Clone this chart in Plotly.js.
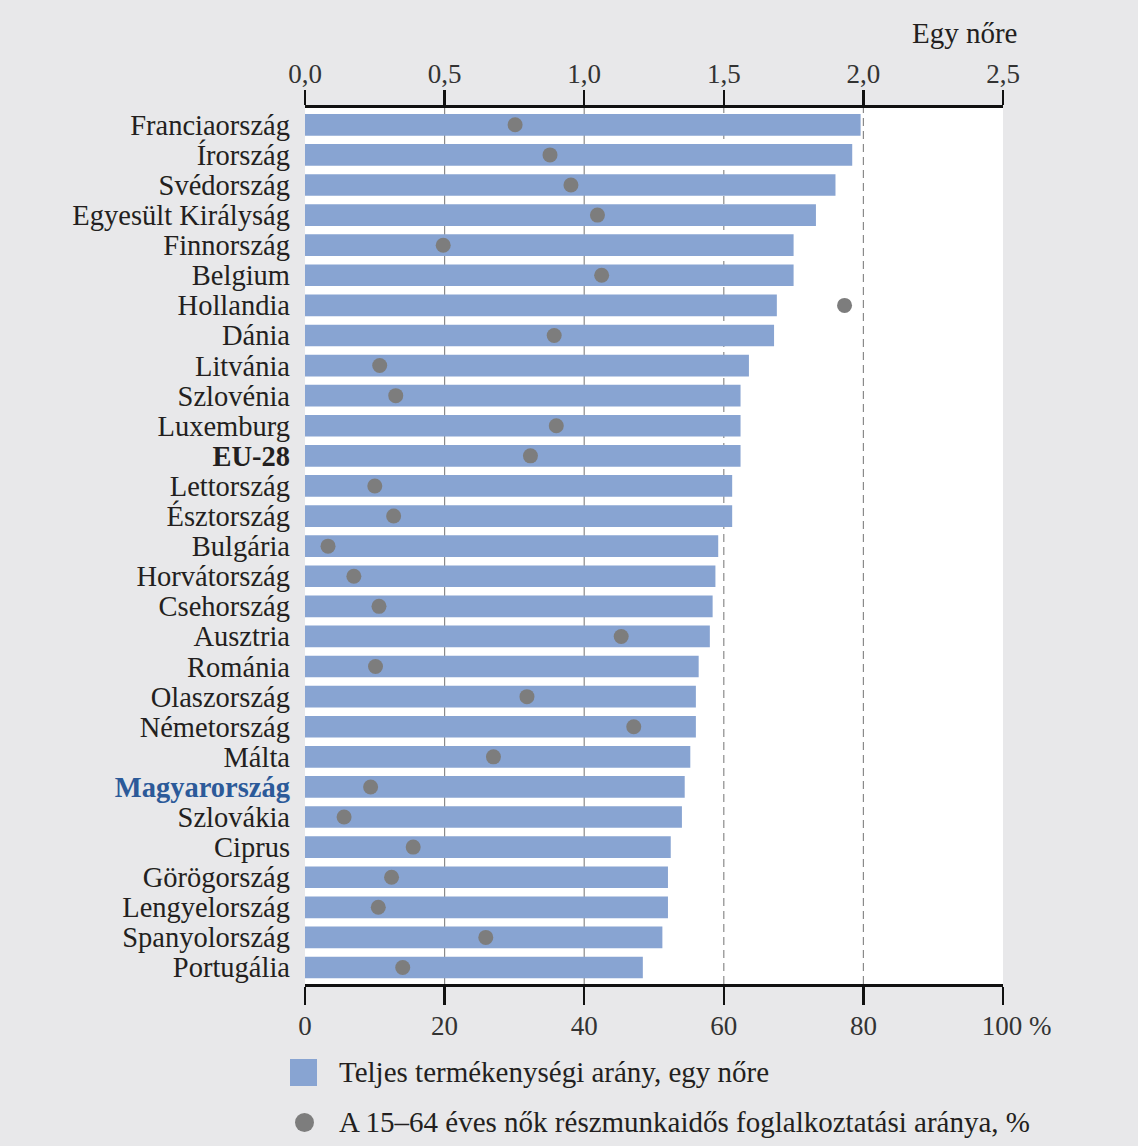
<!DOCTYPE html>
<html>
<head>
<meta charset="utf-8">
<script src="https://cdn.plot.ly/plotly-3.0.1.min.js"></script>
<style>
  html, body { margin: 0; padding: 0; background: #e8e8ea; }
  #chart { width: 1138px; height: 1146px; }
</style>
</head>
<body>
<div id="chart"></div>
<script>
// ---- data ----
const categories = ['Franciaország','Írország','Svédország','Egyesült Királyság','Finnország','Belgium','Hollandia','Dánia','Litvánia','Szlovénia','Luxemburg','EU-28','Lettország','Észtország','Bulgária','Horvátország','Csehország','Ausztria','Románia','Olaszország','Németország','Málta','Magyarország','Szlovákia','Ciprus','Görögország','Lengyelország','Spanyolország','Portugália'];
const fertilityRate = [1.99,1.96,1.90,1.83,1.75,1.75,1.69,1.68,1.59,1.56,1.56,1.56,1.53,1.53,1.48,1.47,1.46,1.45,1.41,1.40,1.40,1.38,1.36,1.35,1.31,1.30,1.30,1.28,1.21];
const partTimeShare = [30.1,35.1,38.1,41.9,19.8,42.5,77.3,35.7,10.7,13.0,36.0,32.3,10.0,12.7,3.3,7.0,10.6,45.3,10.1,31.8,47.1,27.0,9.4,5.6,15.5,12.4,10.5,25.9,14.0];
const fertilityTicks = [0, 0.5, 1.0, 1.5, 2.0, 2.5];
const percentTicks = [0, 20, 40, 60, 80, 100];
const percentTickText = ['0','20','40','60','80','\u2007\u2007100 %'];
const solidGridValues = [0.5, 1.0];
const dashedRefValues = [1.5, 2.0];
const legendLabels = ['Teljes termékenységi arány, egy nőre', 'A 15–64 éves nők részmunkaidős foglalkoztatási aránya, %'];
const topAxisUnit = 'Egy nőre';

// ---- styling ----
const FONT = 'Liberation Serif, "Times New Roman", serif';
const TEXT = '#231f20';
const BAR = '#88a4d2';
const DOT = '#7d7d7d';
const W = 1138, H = 1146;
const M = {l: 305, r: 135, t: 108, b: 162};
const PW = W - M.l - M.r, PH = H - M.t - M.b;
const px = v => (v - M.l) / PW;
const py = v => (H - M.b - v) / PH;

const tickText = categories.map(c => {
  if (c === 'EU-28') return '<b>' + c + '</b>';
  if (c === 'Magyarország') return '<span style="color:#2c5a99"><b>' + c + '</b></span>';
  return c;
});

const traces = [
  {
    type: 'bar', orientation: 'h',
    x: fertilityRate, y: categories,
    xaxis: 'x', yaxis: 'y',
    width: 0.72,
    marker: {color: BAR, line: {width: 0}},
    name: legendLabels[0],
    hoverinfo: 'skip'
  },
  {
    type: 'scatter', mode: 'markers',
    x: partTimeShare, y: categories,
    xaxis: 'x2', yaxis: 'y',
    marker: {color: DOT, size: 15, line: {width: 0}},
    name: legendLabels[1],
    hoverinfo: 'skip'
  }
];

const shapes = [];
solidGridValues.forEach(v => shapes.push({
  type: 'line', xref: 'x', yref: 'paper', x0: v, x1: v, y0: 0, y1: 1,
  line: {color: '#8a8a8a', width: 1.2}, layer: 'below'
}));
dashedRefValues.forEach(v => shapes.push({
  type: 'line', xref: 'x', yref: 'paper', x0: v, x1: v, y0: 0, y1: 1,
  line: {color: '#8a8a8a', width: 1.2, dash: '8px,5px'}, layer: 'below'
}));
// legend swatches
shapes.push({type: 'rect', xref: 'paper', yref: 'paper',
  x0: px(290), x1: px(317), y0: py(1086), y1: py(1059),
  fillcolor: BAR, line: {width: 0}});
shapes.push({type: 'circle', xref: 'paper', yref: 'paper',
  x0: px(295), x1: px(314), y0: py(1132), y1: py(1113),
  fillcolor: DOT, line: {width: 0}});

const annotations = [
  {xref: 'paper', yref: 'paper', x: px(1020), y: py(33), xanchor: 'right', yanchor: 'middle',
   text: topAxisUnit, showarrow: false, font: {family: FONT, size: 29, color: TEXT}},
  {xref: 'paper', yref: 'paper', x: px(337), y: py(1072), xanchor: 'left', yanchor: 'middle',
   text: legendLabels[0], showarrow: false, font: {family: FONT, size: 29, color: TEXT}},
  {xref: 'paper', yref: 'paper', x: px(337), y: py(1122), xanchor: 'left', yanchor: 'middle',
   text: legendLabels[1], showarrow: false, font: {family: FONT, size: 29, color: TEXT}}
];

const layout = {
  width: W, height: H,
  margin: M,
  paper_bgcolor: '#e8e8ea',
  plot_bgcolor: '#ffffff',
  separators: ', ',
  showlegend: false,
  hovermode: false,
  font: {family: FONT, size: 27, color: TEXT},
  xaxis: {
    side: 'top', range: [0, 2.5],
    tickvals: fertilityTicks, tickformat: '.1f',
    showline: true, linecolor: '#111', linewidth: 3,
    ticks: 'outside', ticklen: 15, tickwidth: 2.5, tickcolor: '#111',
    ticklabelstandoff: -4,
    showgrid: false, zeroline: false,
    tickfont: {family: FONT, size: 27, color: '#333'},
    fixedrange: true
  },
  xaxis2: {
    overlaying: 'x', side: 'bottom', range: [0, 100],
    tickvals: percentTicks, ticktext: percentTickText,
    showline: true, linecolor: '#111', linewidth: 3,
    ticks: 'outside', ticklen: 18, tickwidth: 2.5, tickcolor: '#111',
    ticklabelstandoff: -2,
    showgrid: false, zeroline: false,
    tickfont: {family: FONT, size: 27, color: '#333'},
    fixedrange: true
  },
  yaxis: {
    type: 'category', categoryorder: 'array', categoryarray: categories,
    range: [28.548, -0.558],
    tickvals: categories, ticktext: tickText,
    ticks: '', showline: false, showgrid: false, zeroline: false,
    ticklabelstandoff: 14,
    tickfont: {family: FONT, size: 28.5, color: TEXT},
    fixedrange: true
  },
  shapes: shapes,
  annotations: annotations
};

Plotly.newPlot('chart', traces, layout, {staticPlot: true, displayModeBar: false});
</script>
</body>
</html>
